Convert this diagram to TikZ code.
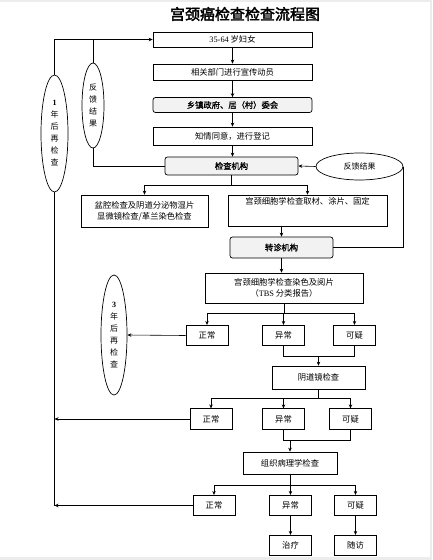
\documentclass[tikz,border=0pt]{standalone}
\usepackage{fontspec}
\setmainfont{Liberation Serif}
\newfontfamily\cjk{Noto Sans CJK SC}
\newfontfamily\cjkbf[FakeBold=1.2]{Noto Sans CJK SC}
\newfontfamily\cjktitle[FakeBold=2.5]{Noto Sans CJK SC}
\usetikzlibrary{arrows.meta,shapes.geometric}
\tikzset{
  box/.style={draw, line width=0.7pt, align=center, inner sep=1pt, font=\cjk\fontsize{8.3}{11}\selectfont},
  gbox/.style={box, rounded corners=2.5pt, fill=gray!10, font=\cjkbf\fontsize{8.3}{11}\selectfont},
  oval/.style={draw, ellipse, line width=0.7pt, inner sep=0pt, align=center, font=\cjk\fontsize{8}{12}\selectfont},
  line/.style={line width=0.6pt},
  arr/.style={line, -{Stealth[length=4pt,width=3.5pt]}},
  sbox/.style={box, minimum width=42pt, minimum height=20.5pt},
}
\begin{document}
\begin{tikzpicture}[x=1pt,y=-1pt]
\useasboundingbox (0,0) rectangle (432,560);
\fill[gray!15] (0,0) rectangle (432,1.5);
\fill[gray!15] (429.5,0) rectangle (432,560);
\fill[gray!15] (0,557) rectangle (432,560);

\node[font=\cjktitle\fontsize{15}{18}\selectfont] (title) at (245,14) {宫颈癌检查检查流程图};

% top chain
\node[box, minimum width=159pt, minimum height=15pt] (b1) at (232.5,39.5) {{\rmfamily 35-64} 岁妇女};
\node[box, minimum width=159pt, minimum height=16pt] (b2) at (232.5,72) {相关部门进行宣传动员};
\node[gbox, minimum width=159pt, minimum height=15pt] (b3) at (232.5,105) {乡镇政府、居（村）委会};
\node[box, minimum width=159pt, minimum height=18pt] (b4) at (232.5,136) {知情同意，进行登记};
\node[gbox, minimum width=133pt, minimum height=18pt] (jcjg) at (231.5,166) {检查机构};
\node[oval, minimum width=87pt, minimum height=27pt] (fk) at (359.5,166.5) {反馈结果};

\node[box, minimum width=127pt, minimum height=32pt] (pq) at (144.5,211) {盆腔检查及阴道分泌物湿片\\显微镜检查/革兰染色检查};
\node[box, minimum width=159pt, minimum height=31pt] (qc) at (307.5,210.5) {宫颈细胞学检查取材、涂片、固定\\[9pt]};
\node[gbox, minimum width=103pt, minimum height=21pt] (zz) at (281.5,247.5) {转诊机构};

\node[box, minimum width=158pt, minimum height=30pt] (yp) at (284,288) {宫颈细胞学检查染色及阅片\\（{\rmfamily TBS} 分类报告）};

% first result row
\node[sbox] (zc1) at (207,335.5) {正常};
\node[sbox] (yc1) at (283.5,335.5) {异常};
\node[sbox] (ky1) at (354.5,335.5) {可疑};
\node[box, minimum width=93pt, minimum height=23pt] (ydj) at (318.5,377.5) {阴道镜检查};

% second result row
\node[sbox] (zc2) at (211,419) {正常};
\node[sbox] (yc2) at (283.5,419) {异常};
\node[sbox] (ky2) at (350.5,419) {可疑};
\node[box, minimum width=94pt, minimum height=22pt] (bl) at (290,463) {组织病理学检查};

% third result row
\node[sbox] (zc3) at (214,505.5) {正常};
\node[sbox] (yc3) at (290.5,505.5) {异常};
\node[sbox] (ky3) at (355.5,505.5) {可疑};
\node[sbox] (zl) at (290.5,545.5) {治疗};
\node[sbox] (sf) at (355.5,545.5) {随访};

% ovals on the left
\node[oval, minimum width=27pt, minimum height=117pt] (e1) at (54.5,133.5) {{\rmfamily\bfseries 1}\\年\\后\\再\\检\\查};
\node[oval, minimum width=22pt, minimum height=85pt] (e2) at (93,105.5) {反\\馈\\结\\果};
\node[oval, minimum width=26pt, minimum height=120pt] (e3) at (114,335) {{\rmfamily\bfseries 3}\\年\\后\\再\\检\\查};

% connectors
\draw[arr] (e1.north) |- (b1.west);
\draw[line] (e2.north) -- (e2.north |- b1.west);
\draw[line] (e2.south) |- (jcjg.west);
\draw[arr] (b1) -- (b2);
\draw[arr] (b2) -- (b3);
\draw[arr] (b3) -- (b4);
\draw[arr] (b4.south) -- (b4.south |- jcjg.north);
\draw[arr] (fk.west) -- (jcjg.east);
\draw[line] (fk.east) |- (zz.east);

\draw[line] (jcjg.south) -- ++(0,10) coordinate (s1);
\draw[arr] (s1) -| (pq.north);
\draw[arr] (s1) -| (qc.north);
\draw[arr] (qc.south -| zz.north) -- (zz.north);
\draw[arr] (zz.south) -- (zz.south |- yp.north);

\draw[line] (yp.south) -- ++(0,10) coordinate (s2);
\draw[arr] (s2) -| (zc1.north);
\draw[arr] (s2) -| (yc1.north);
\draw[arr] (s2) -| (ky1.north);
\draw[arr] (zc1.west) -- (e3.east);
\draw[line] (yc1.south) -- ++(0,10) coordinate (m1) -| (ky1.south);
\draw[arr] (m1 -| ydj.north) -- (ydj.north);

\draw[line] (ydj.south) -- ++(0,9) coordinate (s3);
\draw[arr] (s3) -| (zc2.north);
\draw[arr] (s3) -| (yc2.north);
\draw[arr] (s3) -| (ky2.north);
\draw[line] (e1.south) -- (e1.south |- zc3.west);
\draw[arr] (zc2.west) -- (e1.south |- zc2.west);
\draw[line] (yc2.south) -- ++(0,11) coordinate (m2) -| (ky2.south);
\draw[arr] (m2 -| bl.north) -- (bl.north);

\draw[line] (bl.south) -- ++(0,11) coordinate (s4);
\draw[arr] (s4) -| (zc3.north);
\draw[arr] (s4) -| (yc3.north);
\draw[arr] (s4) -| (ky3.north);
\draw[arr] (zc3.west) -- (e1.south |- zc3.west);
\draw[arr] (yc3) -- (zl);
\draw[arr] (ky3) -- (sf);
\end{tikzpicture}
\end{document}
